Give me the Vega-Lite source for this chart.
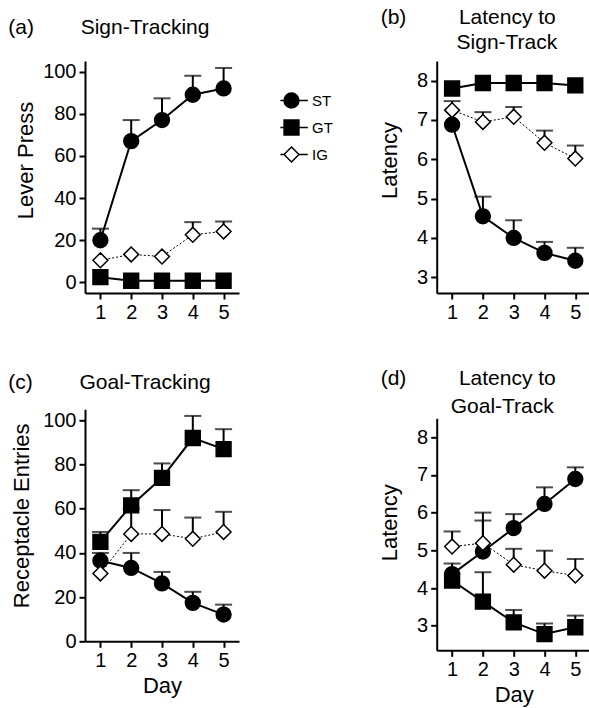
{
  "$schema": "https://vega.github.io/schema/vega-lite/v6.json",
  "padding": {"left": 8, "top": 7, "right": 0, "bottom": 12},
  "background": "white",
  "datasets": {
    "main": [
      {"panel":"a","group":"ST","day":1,"mean":20,"hi":25.5},
      {"panel":"a","group":"ST","day":2,"mean":67,"hi":77},
      {"panel":"a","group":"ST","day":3,"mean":77,"hi":87.3},
      {"panel":"a","group":"ST","day":4,"mean":89,"hi":98},
      {"panel":"a","group":"ST","day":5,"mean":92,"hi":101.7},
      {"panel":"a","group":"GT","day":1,"mean":2.5,"hi":null},
      {"panel":"a","group":"GT","day":2,"mean":0.8,"hi":null},
      {"panel":"a","group":"GT","day":3,"mean":0.8,"hi":null},
      {"panel":"a","group":"GT","day":4,"mean":0.8,"hi":null},
      {"panel":"a","group":"GT","day":5,"mean":0.8,"hi":null},
      {"panel":"a","group":"IG","day":1,"mean":10.5,"hi":null},
      {"panel":"a","group":"IG","day":2,"mean":13.3,"hi":null},
      {"panel":"a","group":"IG","day":3,"mean":12.3,"hi":null},
      {"panel":"a","group":"IG","day":4,"mean":22.6,"hi":28.6},
      {"panel":"a","group":"IG","day":5,"mean":24.2,"hi":28.9},
      {"panel":"b","group":"ST","day":1,"mean":6.88,"hi":null},
      {"panel":"b","group":"ST","day":2,"mean":4.55,"hi":5.05},
      {"panel":"b","group":"ST","day":3,"mean":4.0,"hi":4.45},
      {"panel":"b","group":"ST","day":4,"mean":3.62,"hi":3.9},
      {"panel":"b","group":"ST","day":5,"mean":3.42,"hi":3.75},
      {"panel":"b","group":"GT","day":1,"mean":7.8,"hi":null},
      {"panel":"b","group":"GT","day":2,"mean":7.94,"hi":null},
      {"panel":"b","group":"GT","day":3,"mean":7.94,"hi":null},
      {"panel":"b","group":"GT","day":4,"mean":7.94,"hi":null},
      {"panel":"b","group":"GT","day":5,"mean":7.88,"hi":null},
      {"panel":"b","group":"IG","day":1,"mean":7.25,"hi":7.48},
      {"panel":"b","group":"IG","day":2,"mean":6.95,"hi":7.2},
      {"panel":"b","group":"IG","day":3,"mean":7.08,"hi":7.33},
      {"panel":"b","group":"IG","day":4,"mean":6.42,"hi":6.73},
      {"panel":"b","group":"IG","day":5,"mean":6.02,"hi":6.35},
      {"panel":"c","group":"ST","day":1,"mean":36.5,"hi":40},
      {"panel":"c","group":"ST","day":2,"mean":33.2,"hi":40},
      {"panel":"c","group":"ST","day":3,"mean":26.2,"hi":31.4},
      {"panel":"c","group":"ST","day":4,"mean":17.4,"hi":22.4},
      {"panel":"c","group":"ST","day":5,"mean":12.1,"hi":16.6},
      {"panel":"c","group":"GT","day":1,"mean":45,"hi":49.5},
      {"panel":"c","group":"GT","day":2,"mean":61.5,"hi":68.4},
      {"panel":"c","group":"GT","day":3,"mean":74,"hi":80.5},
      {"panel":"c","group":"GT","day":4,"mean":92,"hi":102},
      {"panel":"c","group":"GT","day":5,"mean":87,"hi":96},
      {"panel":"c","group":"IG","day":1,"mean":30.7,"hi":null},
      {"panel":"c","group":"IG","day":2,"mean":48.6,"hi":60},
      {"panel":"c","group":"IG","day":3,"mean":48.6,"hi":59.4},
      {"panel":"c","group":"IG","day":4,"mean":46.4,"hi":56},
      {"panel":"c","group":"IG","day":5,"mean":49.5,"hi":58.6},
      {"panel":"d","group":"ST","day":1,"mean":4.37,"hi":4.65},
      {"panel":"d","group":"ST","day":2,"mean":4.97,"hi":5.79},
      {"panel":"d","group":"ST","day":3,"mean":5.59,"hi":5.96},
      {"panel":"d","group":"ST","day":4,"mean":6.23,"hi":6.67},
      {"panel":"d","group":"ST","day":5,"mean":6.89,"hi":7.2},
      {"panel":"d","group":"GT","day":1,"mean":4.2,"hi":null},
      {"panel":"d","group":"GT","day":2,"mean":3.64,"hi":4.42},
      {"panel":"d","group":"GT","day":3,"mean":3.09,"hi":3.42},
      {"panel":"d","group":"GT","day":4,"mean":2.78,"hi":3.06},
      {"panel":"d","group":"GT","day":5,"mean":2.96,"hi":3.27},
      {"panel":"d","group":"IG","day":1,"mean":5.1,"hi":5.5},
      {"panel":"d","group":"IG","day":2,"mean":5.19,"hi":6.0},
      {"panel":"d","group":"IG","day":3,"mean":4.62,"hi":5.04},
      {"panel":"d","group":"IG","day":4,"mean":4.46,"hi":4.99},
      {"panel":"d","group":"IG","day":5,"mean":4.33,"hi":4.77}
    ]
  },
  "data": {"name": "main"},
  "bounds": "flush",
  "spacing": 351.7,
  "resolve": {"scale": {"shape": "independent", "fill": "independent", "stroke": "independent", "x": "independent", "y": "independent"}, "legend": {"shape": "independent", "fill": "independent", "stroke": "independent"}},
  "hconcat": [
    {
      "bounds": "flush",
      "spacing": 116.3,
      "resolve": {"scale": {"shape": "independent", "fill": "independent", "stroke": "independent", "x": "independent", "y": "independent"}, "legend": {"shape": "independent", "fill": "independent", "stroke": "independent"}},
      "vconcat": [
        {
          "width": 154, "height": 232,
          "title": {"text": "(a)\u00a0\u00a0\u00a0\u00a0\u00a0\u00a0\u00a0\u00a0Sign-Tracking", "dx": -76.7, "offset": 23},
          "transform": [{"filter": "datum.panel === 'a'"}],
          "resolve": {"scale": {"shape": "independent", "fill": "independent", "stroke": "independent"}, "legend": {"shape": "independent", "fill": "independent", "stroke": "independent"}},
          "encoding": {
            "x": {"field": "day", "type": "quantitative", "scale": {"domain": [0.5, 5.5], "nice": false, "zero": false}, "axis": {"values": [1,2,3,4,5], "title": null}},
            "y": {"field": "mean", "type": "quantitative", "title": "Lever Press", "scale": {"domain": [-5, 105], "nice": false, "zero": false}, "axis": {"values": [0,20,40,60,80,100], "titlePadding": 5, "titleY": 99}}
          },
          "layer": [
            {"mark": {"type": "rule", "color": "black", "strokeWidth": 2}, "transform": [{"filter": "datum.hi != null"}], "encoding": {"y2": {"field": "hi"}}},
            {"mark": {"type": "tick", "orient": "horizontal", "size": 17, "thickness": 2, "color": "black"}, "transform": [{"filter": "datum.hi != null"}], "encoding": {"y": {"field": "hi", "type": "quantitative", "title": "Lever Press"}}},
            {"mark": {"type": "line", "color": "black", "strokeWidth": 1, "strokeDash": [2, 2]}, "transform": [{"filter": "datum.group === 'IG'"}], "encoding": {}},
            {"mark": {"type": "line", "color": "black", "strokeWidth": 2}, "transform": [{"filter": "datum.group !== 'IG'"}], "encoding": {"detail": {"field": "group"}}},
            {"mark": {"type": "point", "filled": true, "opacity": 1, "stroke": "black", "strokeWidth": 1.5, "size": 220},
             "encoding": {
               "shape": {"field": "group", "type": "nominal", "scale": {"domain": ["ST","GT","IG"], "range": ["circle","square","diamond"]}, "legend": null},
               "fill": {"field": "group", "type": "nominal", "scale": {"domain": ["ST","GT","IG"], "range": ["black","black","white"]}, "legend": null}
             }},
            {"data": {"values": [{"group": "ST"}, {"group": "GT"}, {"group": "IG"}]},
             "mark": {"type": "point", "filled": true, "opacity": 1, "strokeWidth": 1.5, "size": 220, "clip": true},
             "encoding": {
               "x": {"datum": -10},
               "y": {"datum": -100},
               "shape": {"field": "group", "type": "nominal",
                 "scale": {"domain": ["ST","GT","IG"], "range": ["M-1,0A1,1,0,1,1,1,0A1,1,0,1,1,-1,0Z M-1.5,0H-1 M1,0H2.2", "M-1,-1H1V1H-1Z M-1.5,0H-1 M1,0H2.2", "M0,-1L1,0L0,1L-1,0Z M-1.5,0H-1 M1,0H2.2"]},
                 "legend": {"orient": "none", "legendX": 198, "legendY": 31, "title": null, "padding": 0, "symbolSize": 220, "symbolStrokeWidth": 1.5, "symbolOpacity": 1, "labelFontSize": 15, "labelColor": "black", "labelFont": "Liberation Sans", "labelOffset": 12, "rowPadding": 6}},
               "fill": {"field": "group", "type": "nominal", "scale": {"domain": ["ST","GT","IG"], "range": ["black","black","white"]}},
               "stroke": {"field": "group", "type": "nominal", "scale": {"domain": ["ST","GT","IG"], "range": ["black","black","black"]}}
             }},
            {"data": {"values": [{"letter": "a"}]}, "mark": {"type": "text", "align": "left", "baseline": "middle", "fontSize": 24, "color": "black"},
             "encoding": {"text": {"field": "letter"}, "x": {"datum": 0.73}, "y": {"datum": 93}}}
          ]
        },
        {
          "width": 154, "height": 232,
          "title": {"text": "(c)\u00a0\u00a0\u00a0\u00a0\u00a0\u00a0\u00a0\u00a0Goal-Tracking", "dx": -76.7, "offset": 16},
          "transform": [{"filter": "datum.panel === 'c'"}],
          "encoding": {
            "x": {"field": "day", "type": "quantitative", "title": "Day", "scale": {"domain": [0.5, 5.5], "nice": false, "zero": false}, "axis": {"values": [1,2,3,4,5]}},
            "y": {"field": "mean", "type": "quantitative", "title": "Receptacle Entries", "scale": {"domain": [0, 105], "nice": false, "zero": false}, "axis": {"values": [0,20,40,60,80,100], "titlePadding": 9, "titleY": 106}}
          },
          "layer": [
            {"mark": {"type": "rule", "color": "black", "strokeWidth": 2}, "transform": [{"filter": "datum.hi != null"}], "encoding": {"y2": {"field": "hi"}}},
            {"mark": {"type": "tick", "orient": "horizontal", "size": 17, "thickness": 2, "color": "black"}, "transform": [{"filter": "datum.hi != null"}], "encoding": {"y": {"field": "hi", "type": "quantitative", "title": "Receptacle Entries"}}},
            {"mark": {"type": "line", "color": "black", "strokeWidth": 1, "strokeDash": [2, 2]}, "transform": [{"filter": "datum.group === 'IG'"}], "encoding": {}},
            {"mark": {"type": "line", "color": "black", "strokeWidth": 2}, "transform": [{"filter": "datum.group !== 'IG'"}], "encoding": {"detail": {"field": "group"}}},
            {"mark": {"type": "point", "filled": true, "opacity": 1, "stroke": "black", "strokeWidth": 1.5, "size": 220},
             "encoding": {
               "shape": {"field": "group", "type": "nominal", "scale": {"domain": ["ST","GT","IG"], "range": ["circle","square","diamond"]}, "legend": null},
               "fill": {"field": "group", "type": "nominal", "scale": {"domain": ["ST","GT","IG"], "range": ["black","black","white"]}, "legend": null}
             }},
            {"data": {"values": [{"letter": "c"}]}, "mark": {"type": "text", "align": "left", "baseline": "middle", "fontSize": 24, "color": "black"},
             "encoding": {"text": {"field": "letter"}, "x": {"datum": 0.73}, "y": {"datum": 93.4}}}
          ]
        }
      ]
    },
    {
      "bounds": "flush",
      "spacing": 125.3,
      "resolve": {"scale": {"shape": "independent", "fill": "independent", "stroke": "independent", "x": "independent", "y": "independent"}, "legend": {"shape": "independent", "fill": "independent", "stroke": "independent"}},
      "vconcat": [
        {
          "width": 154, "height": 232,
          "title": {"text": ["(b)\u00a0\u00a0\u00a0\u00a0\u00a0\u00a0\u00a0\u00a0\u00a0Latency to", "\u200b\u00a0\u00a0\u00a0\u00a0\u00a0\u00a0\u00a0\u00a0\u00a0\u00a0\u00a0\u00a0\u00a0Sign-Track"], "dx": -56, "offset": 8, "lineHeight": 25},
          "transform": [{"filter": "datum.panel === 'b'"}],
          "encoding": {
            "x": {"field": "day", "type": "quantitative", "scale": {"domain": [0.5, 5.5], "nice": false, "zero": false}, "axis": {"values": [1,2,3,4,5], "title": null}},
            "y": {"field": "mean", "type": "quantitative", "title": "Latency", "scale": {"domain": [2.6, 8.5], "nice": false, "zero": false}, "axis": {"values": [3,4,5,6,7,8], "titlePadding": 15, "titleY": 99}}
          },
          "layer": [
            {"mark": {"type": "rule", "color": "black", "strokeWidth": 2}, "transform": [{"filter": "datum.hi != null"}], "encoding": {"y2": {"field": "hi"}}},
            {"mark": {"type": "tick", "orient": "horizontal", "size": 17, "thickness": 2, "color": "black"}, "transform": [{"filter": "datum.hi != null"}], "encoding": {"y": {"field": "hi", "type": "quantitative", "title": "Latency"}}},
            {"mark": {"type": "line", "color": "black", "strokeWidth": 1, "strokeDash": [2, 2]}, "transform": [{"filter": "datum.group === 'IG'"}], "encoding": {}},
            {"mark": {"type": "line", "color": "black", "strokeWidth": 2}, "transform": [{"filter": "datum.group !== 'IG'"}], "encoding": {"detail": {"field": "group"}}},
            {"mark": {"type": "point", "filled": true, "opacity": 1, "stroke": "black", "strokeWidth": 1.5, "size": 220},
             "encoding": {
               "shape": {"field": "group", "type": "nominal", "scale": {"domain": ["ST","GT","IG"], "range": ["circle","square","diamond"]}, "legend": null},
               "fill": {"field": "group", "type": "nominal", "scale": {"domain": ["ST","GT","IG"], "range": ["black","black","white"]}, "legend": null}
             }},
            {"data": {"values": [{"letter": "b"}]}, "mark": {"type": "text", "align": "left", "baseline": "middle", "fontSize": 24, "color": "black"},
             "encoding": {"text": {"field": "letter"}, "x": {"datum": 0.67}, "y": {"datum": 3.0}}}
          ]
        },
        {
          "width": 154, "height": 232,
          "title": {"text": ["(d)\u00a0\u00a0\u00a0\u00a0\u00a0\u00a0\u00a0\u00a0\u00a0Latency to", "\u200b\u00a0\u00a0\u00a0\u00a0\u00a0\u00a0\u00a0\u00a0\u00a0\u00a0\u00a0\u00a0Goal-Track"], "dx": -56, "offset": 1, "lineHeight": 28},
          "transform": [{"filter": "datum.panel === 'd'"}],
          "encoding": {
            "x": {"field": "day", "type": "quantitative", "title": "Day", "scale": {"domain": [0.5, 5.5], "nice": false, "zero": false}, "axis": {"values": [1,2,3,4,5]}},
            "y": {"field": "mean", "type": "quantitative", "title": "Latency", "scale": {"domain": [2.35, 8.5], "nice": false, "zero": false}, "axis": {"values": [3,4,5,6,7,8], "titlePadding": 15, "titleY": 104}}
          },
          "layer": [
            {"mark": {"type": "rule", "color": "black", "strokeWidth": 2}, "transform": [{"filter": "datum.hi != null"}], "encoding": {"y2": {"field": "hi"}}},
            {"mark": {"type": "tick", "orient": "horizontal", "size": 17, "thickness": 2, "color": "black"}, "transform": [{"filter": "datum.hi != null"}], "encoding": {"y": {"field": "hi", "type": "quantitative", "title": "Latency"}}},
            {"mark": {"type": "line", "color": "black", "strokeWidth": 1, "strokeDash": [2, 2]}, "transform": [{"filter": "datum.group === 'IG'"}], "encoding": {}},
            {"mark": {"type": "line", "color": "black", "strokeWidth": 2}, "transform": [{"filter": "datum.group !== 'IG'"}], "encoding": {"detail": {"field": "group"}}},
            {"mark": {"type": "point", "filled": true, "opacity": 1, "stroke": "black", "strokeWidth": 1.5, "size": 220},
             "encoding": {
               "shape": {"field": "group", "type": "nominal", "scale": {"domain": ["ST","GT","IG"], "range": ["circle","square","diamond"]}, "legend": null},
               "fill": {"field": "group", "type": "nominal", "scale": {"domain": ["ST","GT","IG"], "range": ["black","black","white"]}, "legend": null}
             }},
            {"data": {"values": [{"letter": "d"}]}, "mark": {"type": "text", "align": "left", "baseline": "middle", "fontSize": 24, "color": "black"},
             "encoding": {"text": {"field": "letter"}, "x": {"datum": 0.715}, "y": {"datum": 2.85}}}
          ]
        }
      ]
    }
  ],
  "config": {
    "font": "Liberation Sans",
    "view": {"stroke": null},
    "axis": {"grid": false, "domainColor": "black", "domainWidth": 2, "tickColor": "black", "tickWidth": 2, "tickSize": 6, "labelColor": "black", "labelFontSize": 20, "labelFont": "Liberation Sans", "labelFlush": false, "labelOverlap": false, "labelPadding": 3, "titleColor": "black", "titleFontSize": 22, "titleFontWeight": "normal", "titleFont": "Liberation Sans"},
    "axisX": {"labelPadding": 3, "titlePadding": 5},
    "title": {"fontSize": 21, "fontWeight": "normal", "color": "black", "font": "Liberation Sans", "anchor": "start", "frame": "group"},
    "text": {"font": "Liberation Sans", "color": "black"}
  }
}
